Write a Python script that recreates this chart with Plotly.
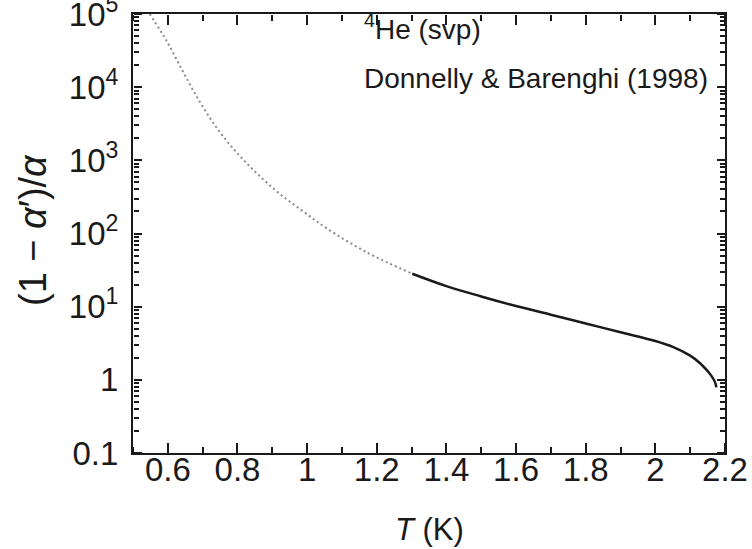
import plotly.graph_objects as go

# Data (T in K, value of (1-alpha')/alpha)
T_dotted = [0.548, 0.598, 0.646, 0.693, 0.744, 0.799, 0.856, 0.922, 0.989, 1.057, 1.172, 1.302]
y_dotted = [100000, 41700, 15500, 6170, 2630, 1260, 661, 347, 200, 117, 55.0, 28.2]

T_solid = [1.302, 1.4, 1.5, 1.6, 1.7, 1.8, 1.9, 2.0, 2.05, 2.1, 2.13, 2.16, 2.172, 2.175]
y_solid = [28.2, 19.1, 13.8, 10.2, 7.76, 5.89, 4.47, 3.39, 2.82, 2.14, 1.66, 1.15, 0.91, 0.79]

x_ticks = [0.6, 0.8, 1.0, 1.2, 1.4, 1.6, 1.8, 2.0, 2.2]
x_ticktext = ["0.6", "0.8", "1", "1.2", "1.4", "1.6", "1.8", "2", "2.2"]
y_ticks = [0.1, 1, 10, 100, 1000, 10000, 100000]
y_ticktext = ["0.1", "1", "10<sup>1</sup>", "10<sup>2</sup>", "10<sup>3</sup>", "10<sup>4</sup>", "10<sup>5</sup>"]

FONT = "Liberation Sans, Arial, Helvetica, sans-serif"
INK = "#1a1a1a"

y_minor = [m * 10 ** e for e in range(-1, 5) for m in range(2, 10)]
x_minor = [round(0.5 + 0.1 * i, 2) for i in range(0, 18)]

XR = [0.5, 2.2]
YR = [-1.0001, 5.0001]

fig = go.Figure()
fig.add_trace(go.Scatter(
    x=T_dotted, y=y_dotted, mode="lines", line_shape="spline",
    line=dict(color="#8a8a8a", width=2, dash="2px,3px"), showlegend=False,
))
fig.add_trace(go.Scatter(
    x=T_solid, y=y_solid, mode="lines", line_shape="spline",
    line=dict(color=INK, width=2.5), showlegend=False,
))


def tick_x(vals, side, pos, ln):
    # ticks drawn "outside" of an axis placed on the opposite edge -> point into the plot
    return dict(overlaying="x", anchor="free", position=pos, side=side, range=XR,
                tickmode="array", tickvals=vals, ticks="outside", ticklen=ln,
                tickwidth=1.5, tickcolor=INK, showticklabels=False,
                showline=False, showgrid=False, zeroline=False, automargin=False)


def tick_y(vals, side, pos, ln):
    return dict(overlaying="y", anchor="free", position=pos, side=side, type="log",
                range=YR, tickmode="array", tickvals=vals, ticks="outside", ticklen=ln,
                tickwidth=1.5, tickcolor=INK, showticklabels=False,
                showline=False, showgrid=False, zeroline=False, automargin=False)


axes = {
    2: (tick_x(x_ticks, "top", 0, 10), tick_y(y_ticks, "right", 0, 8)),
    3: (tick_x(x_minor, "top", 0, 6), tick_y(y_minor, "right", 0, 5)),
    4: (tick_x(x_ticks, "bottom", 1, 10), tick_y(y_ticks, "left", 1, 8)),
    5: (tick_x(x_minor, "bottom", 1, 6), tick_y(y_minor, "left", 1, 5)),
}
for k, (xa, ya) in axes.items():
    fig.update_layout(**{f"xaxis{k}": xa, f"yaxis{k}": ya})
    fig.add_trace(go.Scatter(x=[None], y=[None], xaxis=f"x{k}", yaxis=f"y{k}",
                             mode="lines", showlegend=False, hoverinfo="skip"))

fig.update_layout(
    width=752, height=549,
    margin=dict(l=133, r=27, t=14, b=96, autoexpand=False),
    paper_bgcolor="white", plot_bgcolor="white",
    font=dict(family=FONT, color=INK, size=28),
    xaxis=dict(
        range=XR, tickmode="array", tickvals=x_ticks, ticktext=x_ticktext, ticks="",
        showline=True, linewidth=2, linecolor=INK, mirror=True,
        showgrid=False, zeroline=False, automargin=False,
        tickfont=dict(size=33, family=FONT, color=INK), ticklabelstandoff=-14,
    ),
    yaxis=dict(
        type="log", range=YR, tickmode="array", tickvals=y_ticks, ticktext=y_ticktext,
        ticks="", showline=True, linewidth=2, linecolor=INK, mirror=True,
        showgrid=False, zeroline=False, ticklabeloverflow="allow", automargin=False,
        tickfont=dict(size=33, family=FONT, color=INK), ticklabelstandoff=6,
    ),
    annotations=[
        dict(text="<sup>4</sup>He (svp)", xref="paper", yref="paper",
             x=0.387, y=0.971, xanchor="left", yanchor="middle", showarrow=False,
             font=dict(size=28, family=FONT, color=INK)),
        dict(text="Donnelly &amp; Barenghi (1998)", xref="paper", yref="paper",
             x=0.387, y=0.852, xanchor="left", yanchor="middle", showarrow=False,
             font=dict(size=28, family=FONT, color=INK)),
        dict(text="(1 \u2212 <i>\u03b1</i>\u2032)/<i>\u03b1</i>", xref="paper", yref="paper",
             x=(33 - 133) / 592, y=(453 - 230) / 439, xanchor="center", yanchor="middle",
             textangle=-90, showarrow=False,
             font=dict(size=38, family=FONT, color=INK)),
        dict(text="<i>T</i> (K)", xref="paper", yref="paper",
             x=0.5, y=-0.175, xanchor="center", yanchor="middle", showarrow=False,
             font=dict(size=31, family=FONT, color=INK)),
    ],
)

fig.write_html("out.html")
